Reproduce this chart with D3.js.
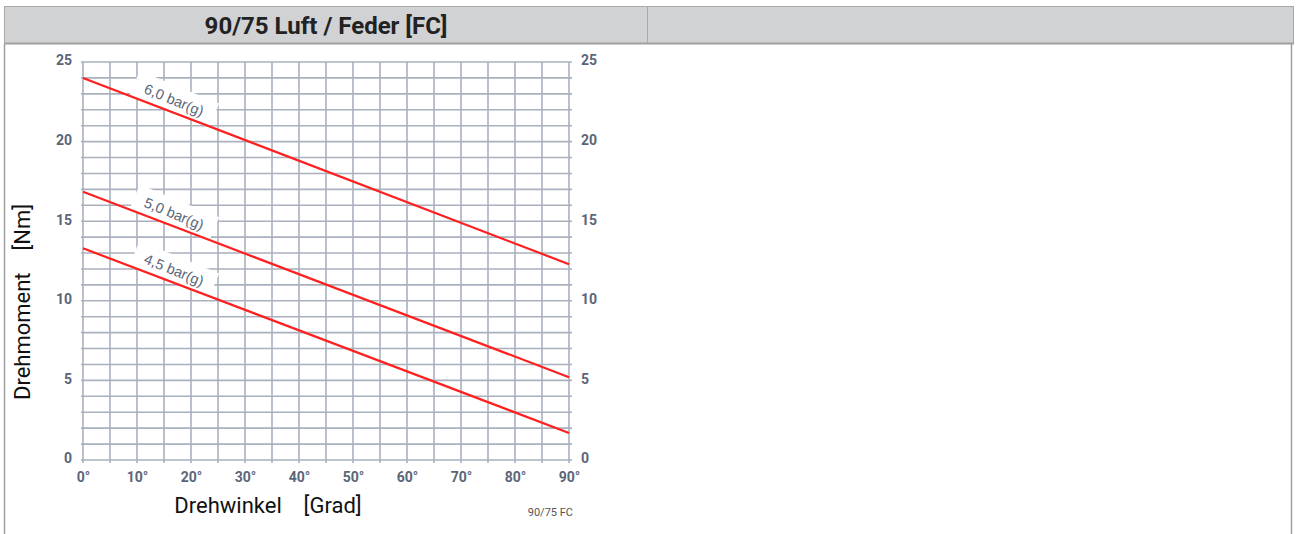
<!DOCTYPE html>
<html>
<head>
<meta charset="utf-8">
<script src="https://cdn.jsdelivr.net/npm/d3@7"></script>
<style>
  html, body { margin: 0; padding: 0; background: #fff; }
  svg { display: block; }
</style>
</head>
<body>
<svg id="chart" width="1298" height="534"></svg>
<script>
// Torque curves of the 90/75 air / spring-return actuator (FC)
const title = "90/75 Luft / Feder [FC]";
const angles = [0, 90];                       // rotation angle, degrees
const pressures = ["6,0 bar(g)", "5,0 bar(g)", "4,5 bar(g)"];
const torque60 = [24.0, 12.3];                // Nm at 0° and 90°
const torque50 = [16.85, 5.2];
const torque45 = [13.3, 1.7];
const xTickLabels = [0, 10, 20, 30, 40, 50, 60, 70, 80, 90];
const yTickLabels = [0, 5, 10, 15, 20, 25];
const xTitle = "Drehwinkel    [Grad]";
const yTitle = "Drehmoment    [Nm]";
const footnote = "90/75 FC";

const series = [torque60, torque50, torque45].map((v, i) => ({
  name: pressures[i],
  points: angles.map((a, j) => ({ a, t: v[j] }))
}));

const svg = d3.select("#chart");
const tickColor = "#5b6578";
const gridColor = "#a9b1be";

// table frame: header band with two cells, body side borders
svg.append("rect").attr("x", 4.5).attr("y", 6.5).attr("width", 1289).attr("height", 37)
  .attr("fill", "#d1d2d4").attr("stroke", "#a9a9a9").attr("stroke-width", 1);
svg.append("line").attr("x1", 4).attr("x2", 1294).attr("y1", 43.5).attr("y2", 43.5)
  .attr("stroke", "#a0a0a0").attr("stroke-width", 2);
svg.append("line").attr("x1", 647.5).attr("x2", 647.5).attr("y1", 6).attr("y2", 43)
  .attr("stroke", "#a9a9a9").attr("stroke-width", 1);
svg.append("line").attr("x1", 4.5).attr("x2", 4.5).attr("y1", 44).attr("y2", 534)
  .attr("stroke", "#a0a0a0").attr("stroke-width", 1.5);
svg.append("line").attr("x1", 1291.5).attr("x2", 1291.5).attr("y1", 44).attr("y2", 534)
  .attr("stroke", "#a0a0a0").attr("stroke-width", 1.5);

svg.append("text").attr("x", 326).attr("y", 34).attr("text-anchor", "middle")
  .attr("font-family", "Roboto, 'Liberation Sans', sans-serif").attr("font-weight", 700)
  .attr("font-size", 24).attr("fill", "#222").text(title);

// plot scales
const x = d3.scaleLinear().domain([0, 90]).range([83, 569]);
const y = d3.scaleLinear().domain([0, 25]).range([460, 62]);

// grid: every 5° and every 1 Nm, with short stubs outside the frame
const grid = svg.append("g");
grid.selectAll("line.v").data(d3.range(0, 91, 5)).join("line")
  .attr("x1", d => x(d)).attr("x2", d => x(d))
  .attr("y1", y(25)).attr("y2", y(0) + 3)
  .attr("stroke", gridColor).attr("stroke-width", 1.6);
grid.selectAll("line.h").data(d3.range(0, 26, 1)).join("line")
  .attr("x1", x(0) - 2).attr("x2", x(90) + 3)
  .attr("y1", d => y(d)).attr("y2", d => y(d))
  .attr("stroke", gridColor).attr("stroke-width", 1.6);

// axes (labels only; grid is drawn above)
const tickFont = g => g.attr("font-family", "Roboto, 'Liberation Sans', sans-serif")
  .attr("font-weight", 700).attr("font-size", 14);

const xAxis = svg.append("g").attr("transform", `translate(0,${y(0)})`)
  .call(d3.axisBottom(x).tickValues(xTickLabels).tickSize(0).tickPadding(12).tickFormat(d => d + "°"))
  .call(tickFont);
const yAxisL = svg.append("g").attr("transform", `translate(${x(0)},0)`)
  .call(d3.axisLeft(y).tickValues(yTickLabels).tickSize(0).tickPadding(11))
  .call(tickFont);
const yAxisR = svg.append("g").attr("transform", `translate(${x(90)},0)`)
  .call(d3.axisRight(y).tickValues(yTickLabels).tickSize(0).tickPadding(12))
  .call(tickFont);
[xAxis, yAxisL, yAxisR].forEach(a => {
  a.select(".domain").remove();
  a.selectAll("text").attr("fill", tickColor);
});
yAxisL.selectAll("text").attr("dy", "0.2em");
yAxisR.selectAll("text").attr("dy", "0.2em");

// pressure labels sit on white patches along each line
const labelAt = 15.5;      // degrees along the curve
const labelOffset = 12;    // px above the curve
const labels = svg.append("g");
const curves = svg.append("g");
const labelText = svg.append("g");

series.forEach(s => {
  const p0 = s.points[0], p1 = s.points[1];
  const dx = x(p1.a) - x(p0.a), dy = y(p1.t) - y(p0.t);
  const ang = Math.atan2(dy, dx) * 180 / Math.PI + 1.5;
  const tAt = p0.t + (p1.t - p0.t) * (labelAt - p0.a) / (p1.a - p0.a);
  const cx = x(labelAt), cy = y(tAt);
  const g = `translate(${cx},${cy}) rotate(${ang})`;
  labels.append("rect").attr("transform", g)
    .attr("x", -40).attr("y", -labelOffset - 14).attr("width", 86).attr("height", 26)
    .attr("fill", "#fff");
  labelText.append("text").attr("transform", g)
    .attr("x", 3).attr("y", -labelOffset + 5).attr("text-anchor", "middle")
    .attr("font-family", "'Liberation Sans', Arial, sans-serif").attr("font-size", 14.5)
    .attr("fill", tickColor).text(s.name);
});

const line = d3.line().x(d => x(d.a)).y(d => y(d.t));
curves.selectAll("path").data(series).join("path")
  .attr("d", d => line(d.points))
  .attr("fill", "none").attr("stroke", "#ff1f1f").attr("stroke-width", 2.2);

// axis titles and drawing number
svg.append("text").attr("x", 268).attr("y", 513)
  .attr("text-anchor", "middle").attr("xml:space", "preserve").style("white-space", "pre")
  .attr("font-family", "Roboto, 'Liberation Sans', sans-serif").attr("font-size", 22)
  .attr("fill", "#111").text(xTitle);
svg.append("text").attr("transform", `translate(30,302) rotate(-90)`)
  .attr("text-anchor", "middle").attr("xml:space", "preserve").style("white-space", "pre")
  .attr("font-family", "Roboto, 'Liberation Sans', sans-serif").attr("font-size", 22)
  .attr("fill", "#111").text(yTitle);
svg.append("text").attr("x", 573).attr("y", 516).attr("text-anchor", "end")
  .attr("font-family", "Roboto, 'Liberation Sans', sans-serif").attr("font-size", 11)
  .attr("fill", "#555").text(footnote);
</script>
</body>
</html>
